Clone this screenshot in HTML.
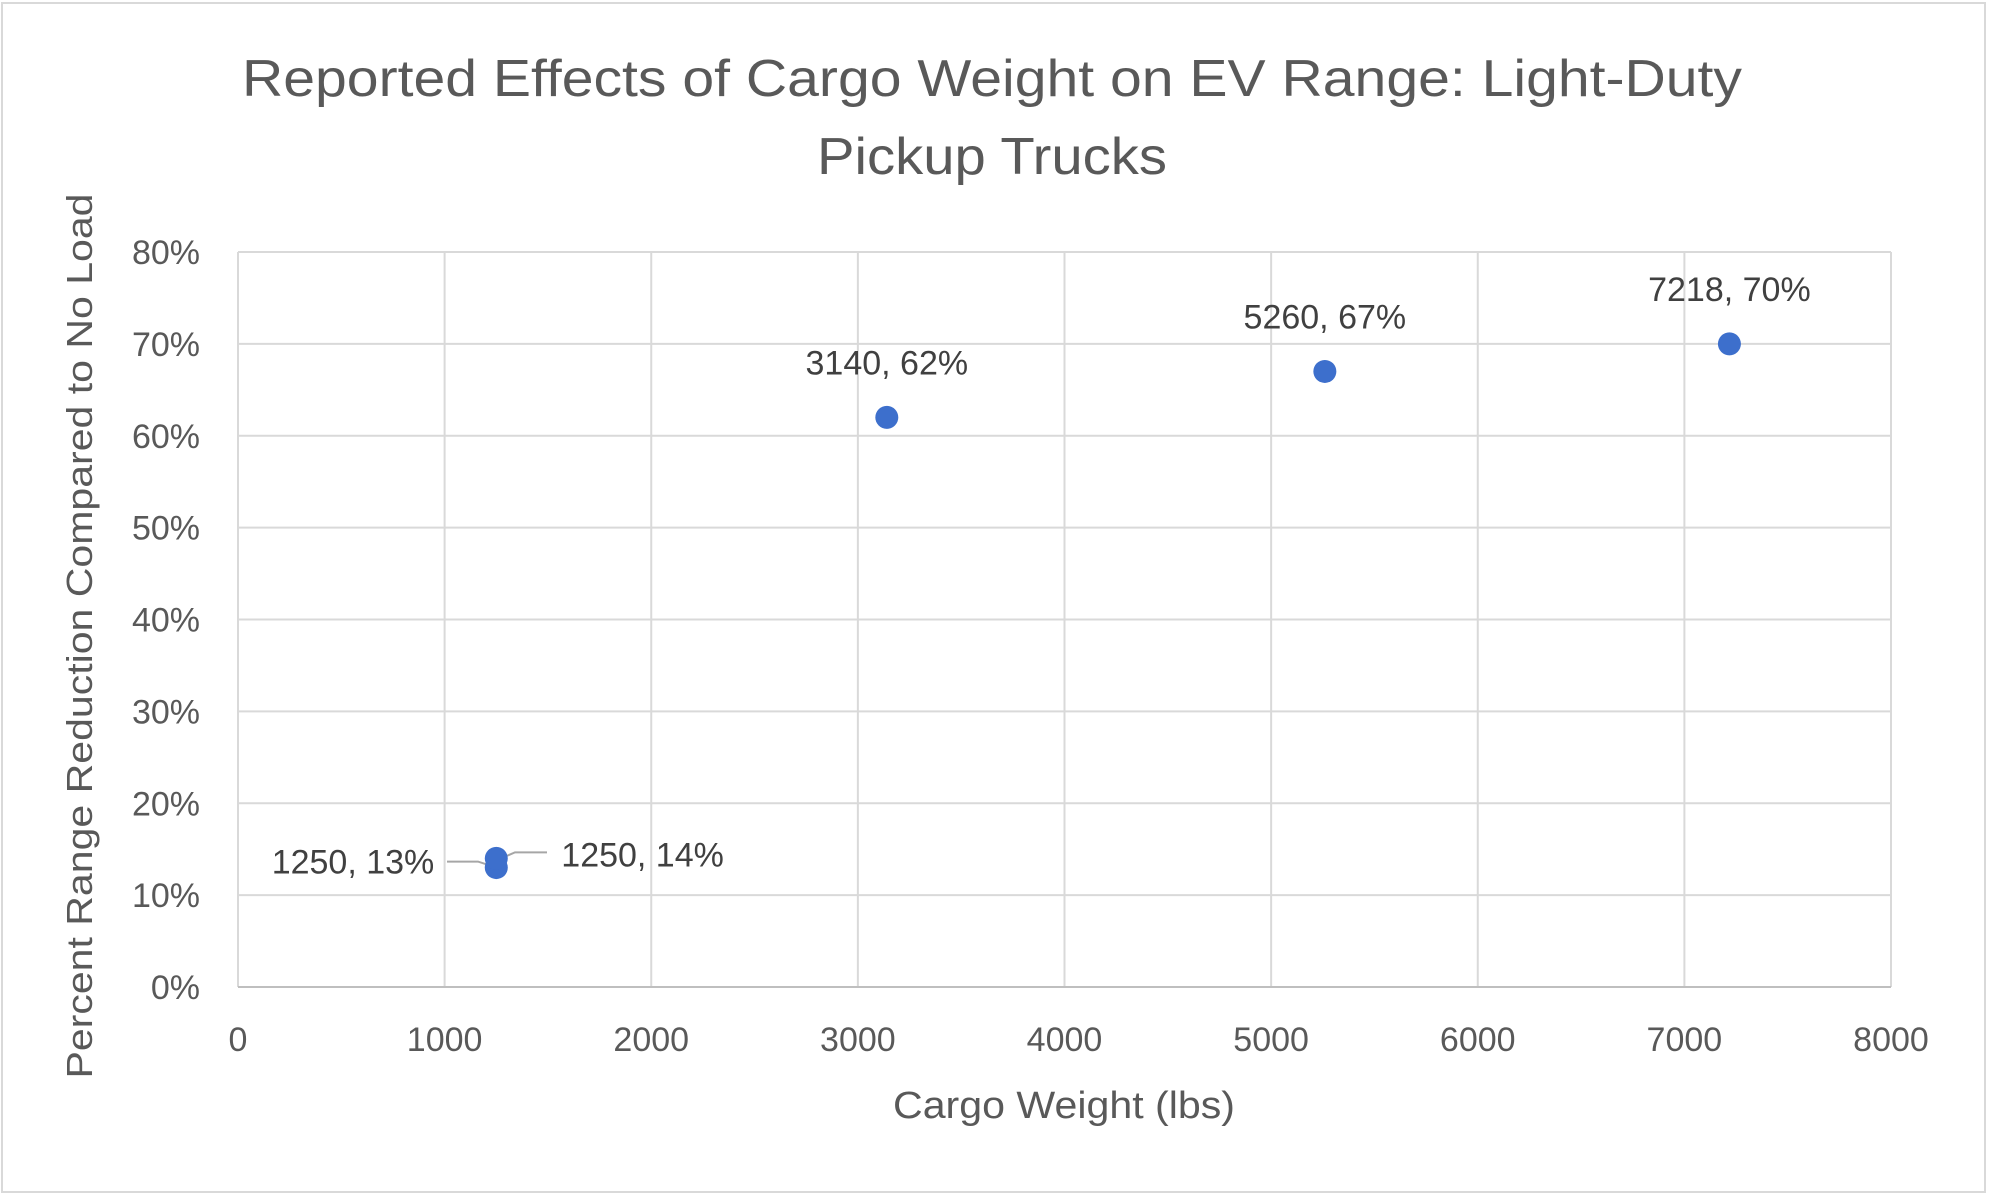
<!DOCTYPE html>
<html><head><meta charset="utf-8"><style>
html,body{margin:0;padding:0;background:#fff}
svg{display:block;font-family:"Liberation Sans",sans-serif}
</style></head><body>
<svg id="chart" width="1989" height="1196" viewBox="0 0 1989 1196" xmlns="http://www.w3.org/2000/svg">
<rect x="2" y="3" width="1983" height="1189" fill="#fff" stroke="#d9d9d9" stroke-width="2"/>
<text x="992" y="96" text-anchor="middle" font-size="52" fill="#595959" textLength="1500" lengthAdjust="spacingAndGlyphs">Reported Effects of Cargo Weight on EV Range: Light-Duty</text>
<text x="992" y="174" text-anchor="middle" font-size="52" fill="#595959" textLength="350" lengthAdjust="spacingAndGlyphs">Pickup Trucks</text>
<g id="grid"></g><g id="axes"></g><g id="marks"></g>
<text x="1064" y="1118" text-anchor="middle" font-size="38" fill="#595959" textLength="342" lengthAdjust="spacingAndGlyphs">Cargo Weight (lbs)</text>
<text transform="translate(92,636) rotate(-90)" text-anchor="middle" font-size="36" fill="#595959" textLength="885" lengthAdjust="spacingAndGlyphs">Percent Range Reduction Compared to No Load</text>
</svg>
<script>
const xTicks=[0,1000,2000,3000,4000,5000,6000,7000,8000];
const yTicks=[0,10,20,30,40,50,60,70,80];
const xVals=[1250,1250,3140,5260,7218];
const yVals=[13,14,62,67,70];
const labels=["1250, 13%","1250, 14%","3140, 62%","5260, 67%","7218, 70%"];
const L=238,R=1891,T=252,B=987;
const xs=v=>L+(v/8000)*(R-L);
const ys=v=>B-(v/80)*(B-T);
const NS="http://www.w3.org/2000/svg";
function mk(tag,attrs,parent){const e=document.createElementNS(NS,tag);for(const k in attrs)e.setAttribute(k,attrs[k]);parent.appendChild(e);return e;}
const grid=document.getElementById('grid'),axes=document.getElementById('axes'),marks=document.getElementById('marks');
xTicks.forEach(t=>{
 const l=mk('line',{x1:xs(t),x2:xs(t),y1:T,y2:B,stroke:'#d9d9d9','stroke-width':2},grid);
 
 
 const tx=mk('text',{x:xs(t),y:1051,'text-anchor':'middle','font-size':34,fill:'#595959'},axes);
 tx.textContent=t;
 
 
});
yTicks.forEach(t=>{
 const l=mk('line',{x1:L,x2:R,y1:ys(t),y2:ys(t),stroke:t===0?'#bfbfbf':'#d9d9d9','stroke-width':2},grid);
 
 
 const tx=mk('text',{x:200,y:ys(t)+12,'text-anchor':'end','font-size':34,fill:'#595959'},axes);
 tx.textContent=t+'%';
 
 
});
const ll1=mk('path',{d:`M447 ${ys(13)-6} L478 ${ys(13)-6} L${xs(xVals[0])} ${ys(13)}`,stroke:'#a6a6a6','stroke-width':2,fill:'none'},marks);


const ll2=mk('path',{d:`M${xs(xVals[1])} ${ys(14)+2} L515 ${ys(14)-6} L547 ${ys(14)-6}`,stroke:'#a6a6a6','stroke-width':2,fill:'none'},marks);


xVals.forEach((v,i)=>{
 const c=mk('circle',{cx:xs(v),cy:ys(yVals[i]),r:11.5,fill:'#3d6fcc'},marks);
 
 
});
const offs=[[-62,6,'end'],[65,8,'start'],[0,-43,'middle'],[0,-43,'middle'],[0,-43,'middle']];
labels.forEach((s,i)=>{
 const o=offs[i];
 const tx=mk('text',{x:xs(xVals[i])+o[0],y:ys(yVals[i])+o[1],'text-anchor':o[2],'font-size':34,fill:'#404040'},marks);
 tx.textContent=s;
 
 
});
</script>
</body></html>
